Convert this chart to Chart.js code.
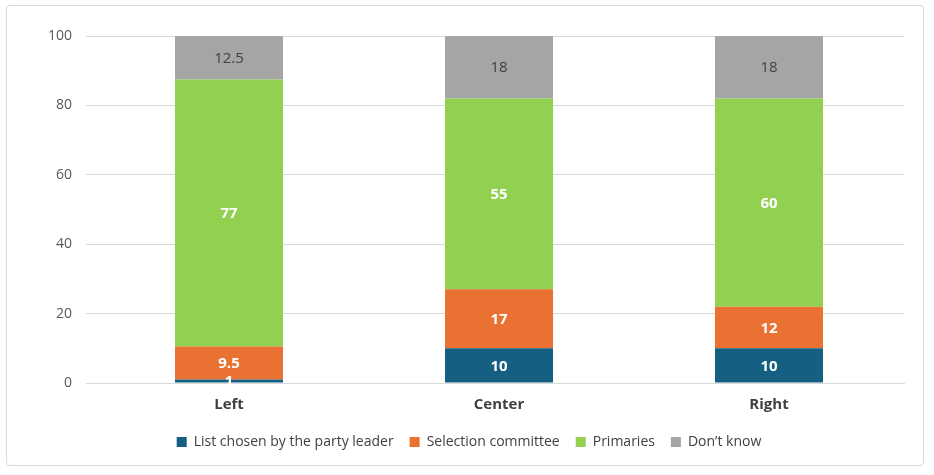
<!DOCTYPE html>
<html>
<head>
<meta charset="utf-8">
<script src="https://cdn.jsdelivr.net/npm/chart.js@4"></script>
<style>
  body { margin: 0; background: #fff; }
  #frame { position: absolute; left: 6px; top: 5px; width: 918px; height: 461px;
           border: 1px solid #d9d9d9; border-radius: 4px; box-sizing: border-box; }
  #wrap { position: absolute; left: 7px; top: 6px; width: 916px; height: 459px; }
</style>
</head>
<body>
<div id="frame"></div>
<div id="wrap"><canvas id="c"></canvas></div>
<script>
var categories = ['Left', 'Center', 'Right'];
var leaderValues = [1, 10, 10];
var committeeValues = [9.5, 17, 12];
var primariesValues = [77, 55, 60];
var dontKnowValues = [12.5, 18, 18];

var FONT = "'Open Sans', 'Liberation Sans', sans-serif";

// draws value labels centred in each bar segment
var segmentLabels = {
    id: 'segmentLabels',
    afterDatasetsDraw: function(chart) {
        var ctx = chart.ctx;
        chart.data.datasets.forEach(function(ds, i) {
            var meta = chart.getDatasetMeta(i);
            meta.data.forEach(function(bar, j) {
                var mid = (bar.y + bar.base) / 2;
                ctx.save();
                ctx.font = (ds.labelBold ? 'bold ' : '') + '15px ' + FONT;
                ctx.fillStyle = ds.labelColor;
                ctx.textAlign = 'center';
                ctx.textBaseline = 'middle';
                ctx.fillText(String(ds.data[j]), bar.x, mid + 1);
                ctx.restore();
            });
        });
    }
};

new Chart(document.getElementById('c'), {
    type: 'bar',
    data: {
        labels: categories,
        datasets: [
            { label: 'List chosen by the party leader', data: leaderValues, backgroundColor: '#156082', labelColor: '#fff', labelBold: true },
            { label: 'Selection committee', data: committeeValues, backgroundColor: '#E97132', labelColor: '#fff', labelBold: true },
            { label: 'Primaries', data: primariesValues, backgroundColor: '#92D050', labelColor: '#fff', labelBold: true },
            { label: 'Don\u2019t know', data: dontKnowValues, backgroundColor: '#A5A5A5', labelColor: '#404040', labelBold: false }
        ]
    },
    options: {
        responsive: true,
        maintainAspectRatio: false,
        animation: false,
        layout: { padding: { left: 27, right: 19, top: 30, bottom: 6 } },
        datasets: { bar: { categoryPercentage: 0.8, barPercentage: 0.5 } },
        scales: {
            x: {
                stacked: true,
                grid: { display: false },
                border: { color: '#d9d9d9' },
                ticks: { color: '#404040', font: { family: FONT, size: 15, weight: 'bold' }, padding: 5 }
            },
            y: {
                stacked: true,
                min: 0, max: 100,
                ticks: { stepSize: 20, color: '#595959', font: { family: FONT, size: 14 }, padding: 14 },
                grid: { color: '#d9d9d9' },
                border: { display: false }
            }
        },
        plugins: {
            tooltip: { enabled: false },
            legend: {
                position: 'bottom',
                labels: { boxWidth: 10, boxHeight: 10, padding: 16, color: '#404040', font: { family: FONT, size: 14 } }
            }
        }
    },
    plugins: [segmentLabels]
});
</script>
</body>
</html>
